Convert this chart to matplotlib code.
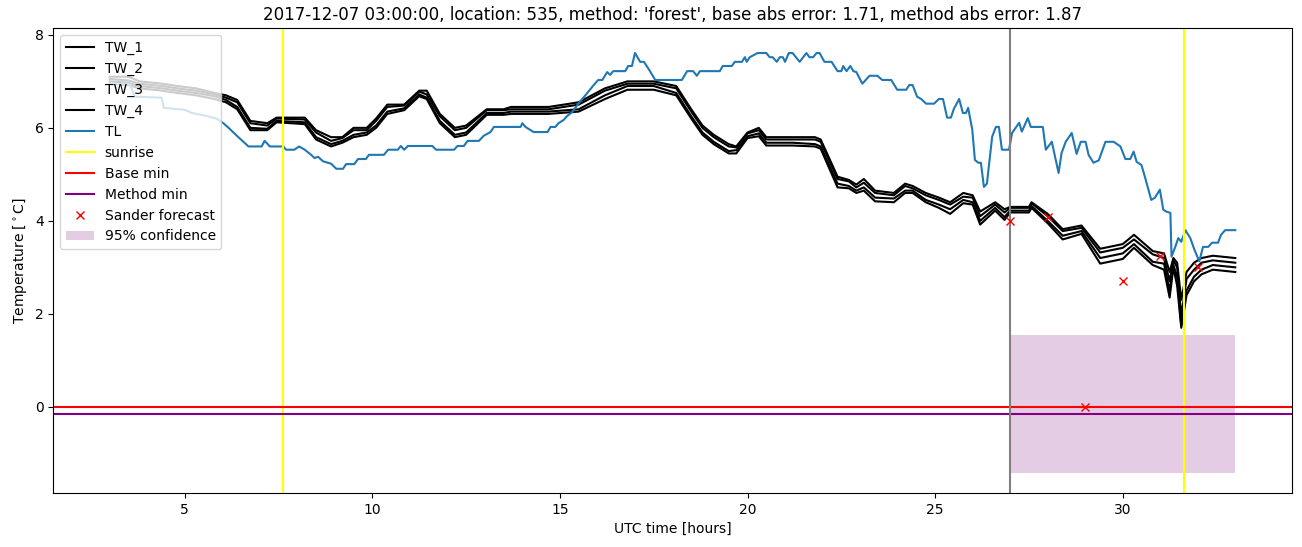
import numpy as np
import matplotlib
matplotlib.use("Agg")
import matplotlib.pyplot as plt

# =============================
# Data
# =============================
TW_T = [3.0, 3.5, 3.8, 4.4, 4.8, 5.3, 5.8, 6.1, 6.4, 6.75,
        7.2, 7.45, 8.2, 8.5, 8.9, 9.2, 9.5, 9.85, 10.1, 10.4,
        10.85, 11.25, 11.45, 11.8, 12.2, 12.5, 13.05, 13.5, 13.7, 14.7,
        15.5, 16.2, 16.8, 17.5, 18.1, 18.5, 18.8, 19.1, 19.5, 19.7,
        20.0, 20.3, 20.5, 21.2, 21.8, 21.95, 22.4, 22.7, 22.9, 23.1,
        23.4, 23.9, 24.2, 24.4, 24.75, 25.1, 25.4, 25.75, 26.0, 26.2,
        26.6, 26.85, 27.0, 27.5, 27.57, 28.0, 28.4, 28.9, 29.4, 30.0,
        30.3, 30.8, 31.1, 31.25, 31.35, 31.45, 31.56, 31.7, 31.9, 32.1,
        32.4, 33.0]

TW_1 = [7.1, 7.1, 7.0, 6.95, 6.9, 6.85, 6.75, 6.7, 6.6, 6.15,
        6.1, 6.22, 6.22, 5.95, 5.8, 5.8, 6.0, 6.0, 6.2, 6.5,
        6.5, 6.8, 6.8, 6.3, 6.0, 6.05, 6.4, 6.4, 6.45, 6.45,
        6.55, 6.85, 7.0, 7.0, 6.9, 6.4, 6.05, 5.85, 5.65, 5.6,
        5.9, 6.0, 5.8, 5.8, 5.8, 5.75, 4.95, 4.88, 4.78, 4.9,
        4.65, 4.6, 4.8, 4.75, 4.6, 4.5, 4.4, 4.6, 4.55, 4.2,
        4.4, 4.25, 4.3, 4.3, 4.4, 4.15, 3.82, 3.9, 3.4, 3.5,
        3.7, 3.35, 3.3, 2.9, 3.2, 3.1, 2.3, 2.9, 3.1, 3.2,
        3.25, 3.2]

TW_2 = [7.05, 7.02, 6.95, 6.9, 6.85, 6.8, 6.72, 6.65, 6.55, 6.1,
        6.05, 6.2, 6.18, 5.9, 5.72, 5.78, 5.95, 5.95, 6.15, 6.45,
        6.48, 6.78, 6.72, 6.25, 5.95, 6.0, 6.38, 6.38, 6.4, 6.4,
        6.5, 6.8, 6.95, 6.95, 6.85, 6.35, 6.0, 5.8, 5.6, 5.58,
        5.88, 5.95, 5.75, 5.75, 5.75, 5.7, 4.9, 4.85, 4.72, 4.82,
        4.6, 4.55, 4.75, 4.7, 4.55, 4.45, 4.35, 4.52, 4.5, 4.1,
        4.35, 4.18, 4.28, 4.28, 4.38, 4.1, 3.78, 3.85, 3.32, 3.42,
        3.6, 3.28, 3.2, 2.7, 3.15, 3.0, 1.95, 2.75, 2.95, 3.1,
        3.15, 3.1]

TW_3 = [7.0, 6.97, 6.9, 6.85, 6.8, 6.75, 6.68, 6.6, 6.45, 6.0,
        5.98, 6.15, 6.12, 5.8, 5.65, 5.72, 5.85, 5.9, 6.05, 6.35,
        6.42, 6.72, 6.65, 6.15, 5.85, 5.9, 6.32, 6.32, 6.35, 6.35,
        6.4, 6.7, 6.9, 6.9, 6.75, 6.25, 5.9, 5.7, 5.5, 5.52,
        5.82, 5.88, 5.68, 5.68, 5.65, 5.6, 4.8, 4.75, 4.65, 4.72,
        4.5, 4.48, 4.65, 4.65, 4.45, 4.35, 4.25, 4.45, 4.4, 4.0,
        4.28, 4.08, 4.22, 4.22, 4.32, 4.0, 3.68, 3.78, 3.2, 3.3,
        3.5, 3.12, 3.08, 2.5, 3.05, 2.8, 1.75, 2.5, 2.8, 2.95,
        3.05, 3.0]

TW_4 = [6.95, 6.92, 6.85, 6.8, 6.75, 6.7, 6.62, 6.55, 6.4, 5.95,
        5.95, 6.12, 6.08, 5.75, 5.6, 5.68, 5.8, 5.85, 6.0, 6.3,
        6.38, 6.68, 6.62, 6.1, 5.8, 5.85, 6.28, 6.28, 6.3, 6.3,
        6.35, 6.62, 6.82, 6.82, 6.7, 6.2, 5.85, 5.65, 5.45, 5.45,
        5.78, 5.82, 5.62, 5.62, 5.6, 5.55, 4.72, 4.7, 4.6, 4.65,
        4.42, 4.4, 4.6, 4.6, 4.4, 4.28, 4.15, 4.38, 4.35, 3.92,
        4.22, 4.02, 4.18, 4.18, 4.28, 3.95, 3.6, 3.72, 3.08, 3.18,
        3.42, 3.05, 2.95, 2.35, 3.0, 2.6, 1.7, 2.4, 2.7, 2.85,
        2.95, 2.9]

TL_T = [3.0, 3.54, 3.67, 4.39, 4.44, 5.0, 5.19, 5.45, 5.85, 6.03,
        6.17, 6.43, 6.7, 7.05, 7.13, 7.27, 7.63, 7.7, 7.92, 8.05,
        8.2, 8.37, 8.46, 8.55, 8.69, 8.9, 9.04, 9.22, 9.3, 9.52,
        9.62, 9.83, 9.91, 10.31, 10.42, 10.68, 10.76, 10.85, 10.95, 11.6,
        11.7, 12.18, 12.27, 12.44, 12.54, 12.84, 12.97, 13.15, 13.24, 13.95,
        14.0, 14.08, 14.3, 14.67, 14.75, 14.88, 14.96, 15.1, 15.2, 15.33,
        15.5, 15.73, 15.9, 16.02, 16.13, 16.26, 16.34, 16.42, 16.74, 16.82,
        16.92, 17.0, 17.14, 17.24, 17.4, 17.54, 18.25, 18.39, 18.55, 18.65,
        18.73, 19.26, 19.34, 19.58, 19.66, 19.85, 19.93, 19.98, 20.06, 20.27,
        20.5, 20.59, 20.67, 20.78, 20.86, 20.94, 21.0, 21.1, 21.2, 21.39,
        21.57, 21.65, 21.75, 21.84, 21.92, 22.05, 22.24, 22.4, 22.5, 22.55,
        22.64, 22.74, 22.82, 22.9, 23.06, 23.25, 23.46, 23.59, 23.83, 23.99,
        24.23, 24.31, 24.4, 24.52, 24.63, 24.76, 24.97, 25.1, 25.21, 25.32,
        25.42, 25.5, 25.64, 25.74, 25.82, 25.88, 25.99, 26.06, 26.15, 26.22,
        26.3, 26.38, 26.52, 26.62, 26.7, 26.78, 26.97, 27.05, 27.24, 27.31,
        27.47, 27.55, 27.87, 27.95, 28.11, 28.29, 28.37, 28.48, 28.64, 28.77,
        28.88, 29.01, 29.09, 29.22, 29.36, 29.54, 29.76, 29.94, 30.07, 30.2,
        30.29, 30.37, 30.5, 30.6, 30.76, 30.86, 30.99, 31.08, 31.16, 31.27,
        31.3, 31.4, 31.48, 31.56, 31.67, 31.8, 31.91, 32.04, 32.14, 32.28,
        32.38, 32.54, 32.62, 32.73, 33.0]

TL_V = [6.95, 6.93, 6.67, 6.65, 6.43, 6.39, 6.32, 6.28, 6.2, 6.1,
        6.0, 5.8, 5.6, 5.6, 5.72, 5.6, 5.6, 5.53, 5.53, 5.6,
        5.53, 5.42, 5.35, 5.38, 5.28, 5.23, 5.12, 5.12, 5.22, 5.22,
        5.33, 5.33, 5.42, 5.42, 5.53, 5.53, 5.61, 5.53, 5.61, 5.61,
        5.53, 5.53, 5.61, 5.61, 5.72, 5.72, 5.83, 5.91, 6.02, 6.02,
        6.1, 6.02, 5.91, 5.91, 6.02, 6.02, 6.1, 6.17, 6.26, 6.34,
        6.53, 6.75, 6.92, 7.03, 7.03, 7.2, 7.14, 7.22, 7.22, 7.33,
        7.33, 7.61, 7.42, 7.42, 7.22, 7.03, 7.03, 7.22, 7.22, 7.12,
        7.22, 7.22, 7.33, 7.33, 7.42, 7.42, 7.52, 7.42, 7.52, 7.61,
        7.61, 7.52, 7.52, 7.42, 7.52, 7.52, 7.42, 7.61, 7.61, 7.42,
        7.61, 7.52, 7.52, 7.61, 7.61, 7.42, 7.42, 7.22, 7.22, 7.33,
        7.22, 7.33, 7.22, 7.2, 6.95, 7.12, 7.12, 7.03, 7.03, 6.82,
        6.82, 6.92, 6.92, 6.67, 6.62, 6.52, 6.52, 6.62, 6.62, 6.22,
        6.22, 6.41, 6.62, 6.32, 6.32, 6.43, 5.96, 5.31, 5.25, 5.25,
        4.73, 4.8, 5.81, 6.02, 6.02, 5.53, 5.53, 5.89, 6.11, 5.92,
        6.21, 6.02, 6.02, 5.53, 5.7, 5.03, 5.46, 5.7, 5.89, 5.44,
        5.7, 5.7, 5.42, 5.25, 5.3, 5.7, 5.7, 5.6, 5.33, 5.33,
        5.49, 5.27, 5.2, 4.92, 4.45, 4.5, 4.67, 4.24, 4.2, 4.17,
        3.23, 3.44, 3.63, 3.55, 3.8, 3.63, 3.38, 3.13, 3.44, 3.44,
        3.53, 3.53, 3.7, 3.8, 3.8]

SUNRISE = [7.62, 31.64]
FORECAST_START = 27.0
BASE_MIN = 0.0
METHOD_MIN = -0.16

SANDER_T = [27, 28, 29, 30, 31, 32]
SANDER_V = [4.0, 4.08, 0.0, 2.71, 3.25, 3.01]

CONF_T = [27.0, 33.0]
CONF_LO = [-1.42, -1.42]
CONF_HI = [1.55, 1.55]

TITLE = ("2017-12-07 03:00:00, location: 535, method: 'forest', "
         "base abs error: 1.71, method abs error: 1.87")

# =============================
# Plot
# =============================
fig, ax = plt.subplots(figsize=(13.02, 5.47), dpi=100)
fig.subplots_adjust(left=0.041, right=0.992, top=0.949, bottom=0.099)

for name, vals in zip(["TW_1", "TW_2", "TW_3", "TW_4"], [TW_1, TW_2, TW_3, TW_4]):
    ax.plot(TW_T, vals, color="black", label=name)
ax.plot(TL_T, TL_V, color="tab:blue", label="TL")

ax.axvline(SUNRISE[0], color="yellow", label="sunrise")
ax.axvline(SUNRISE[1], color="yellow")
ax.axhline(BASE_MIN, color="red", label="Base min")
ax.axhline(METHOD_MIN, color="purple", label="Method min")
ax.axvline(FORECAST_START, color="grey")
ax.plot(SANDER_T, SANDER_V, "rx", label="Sander forecast")
ax.fill_between(CONF_T, CONF_LO, CONF_HI, color="purple", alpha=0.2,
                linewidth=0, label="95% confidence")

ax.set_ylim(-1.85, 8.15)
ax.set_title(TITLE)
ax.set_xlabel("UTC time [hours]")
ax.set_ylabel(r"Temperature [$^\circ$C]")
ax.legend(loc="upper left")

plt.savefig("out.png", dpi=100)
